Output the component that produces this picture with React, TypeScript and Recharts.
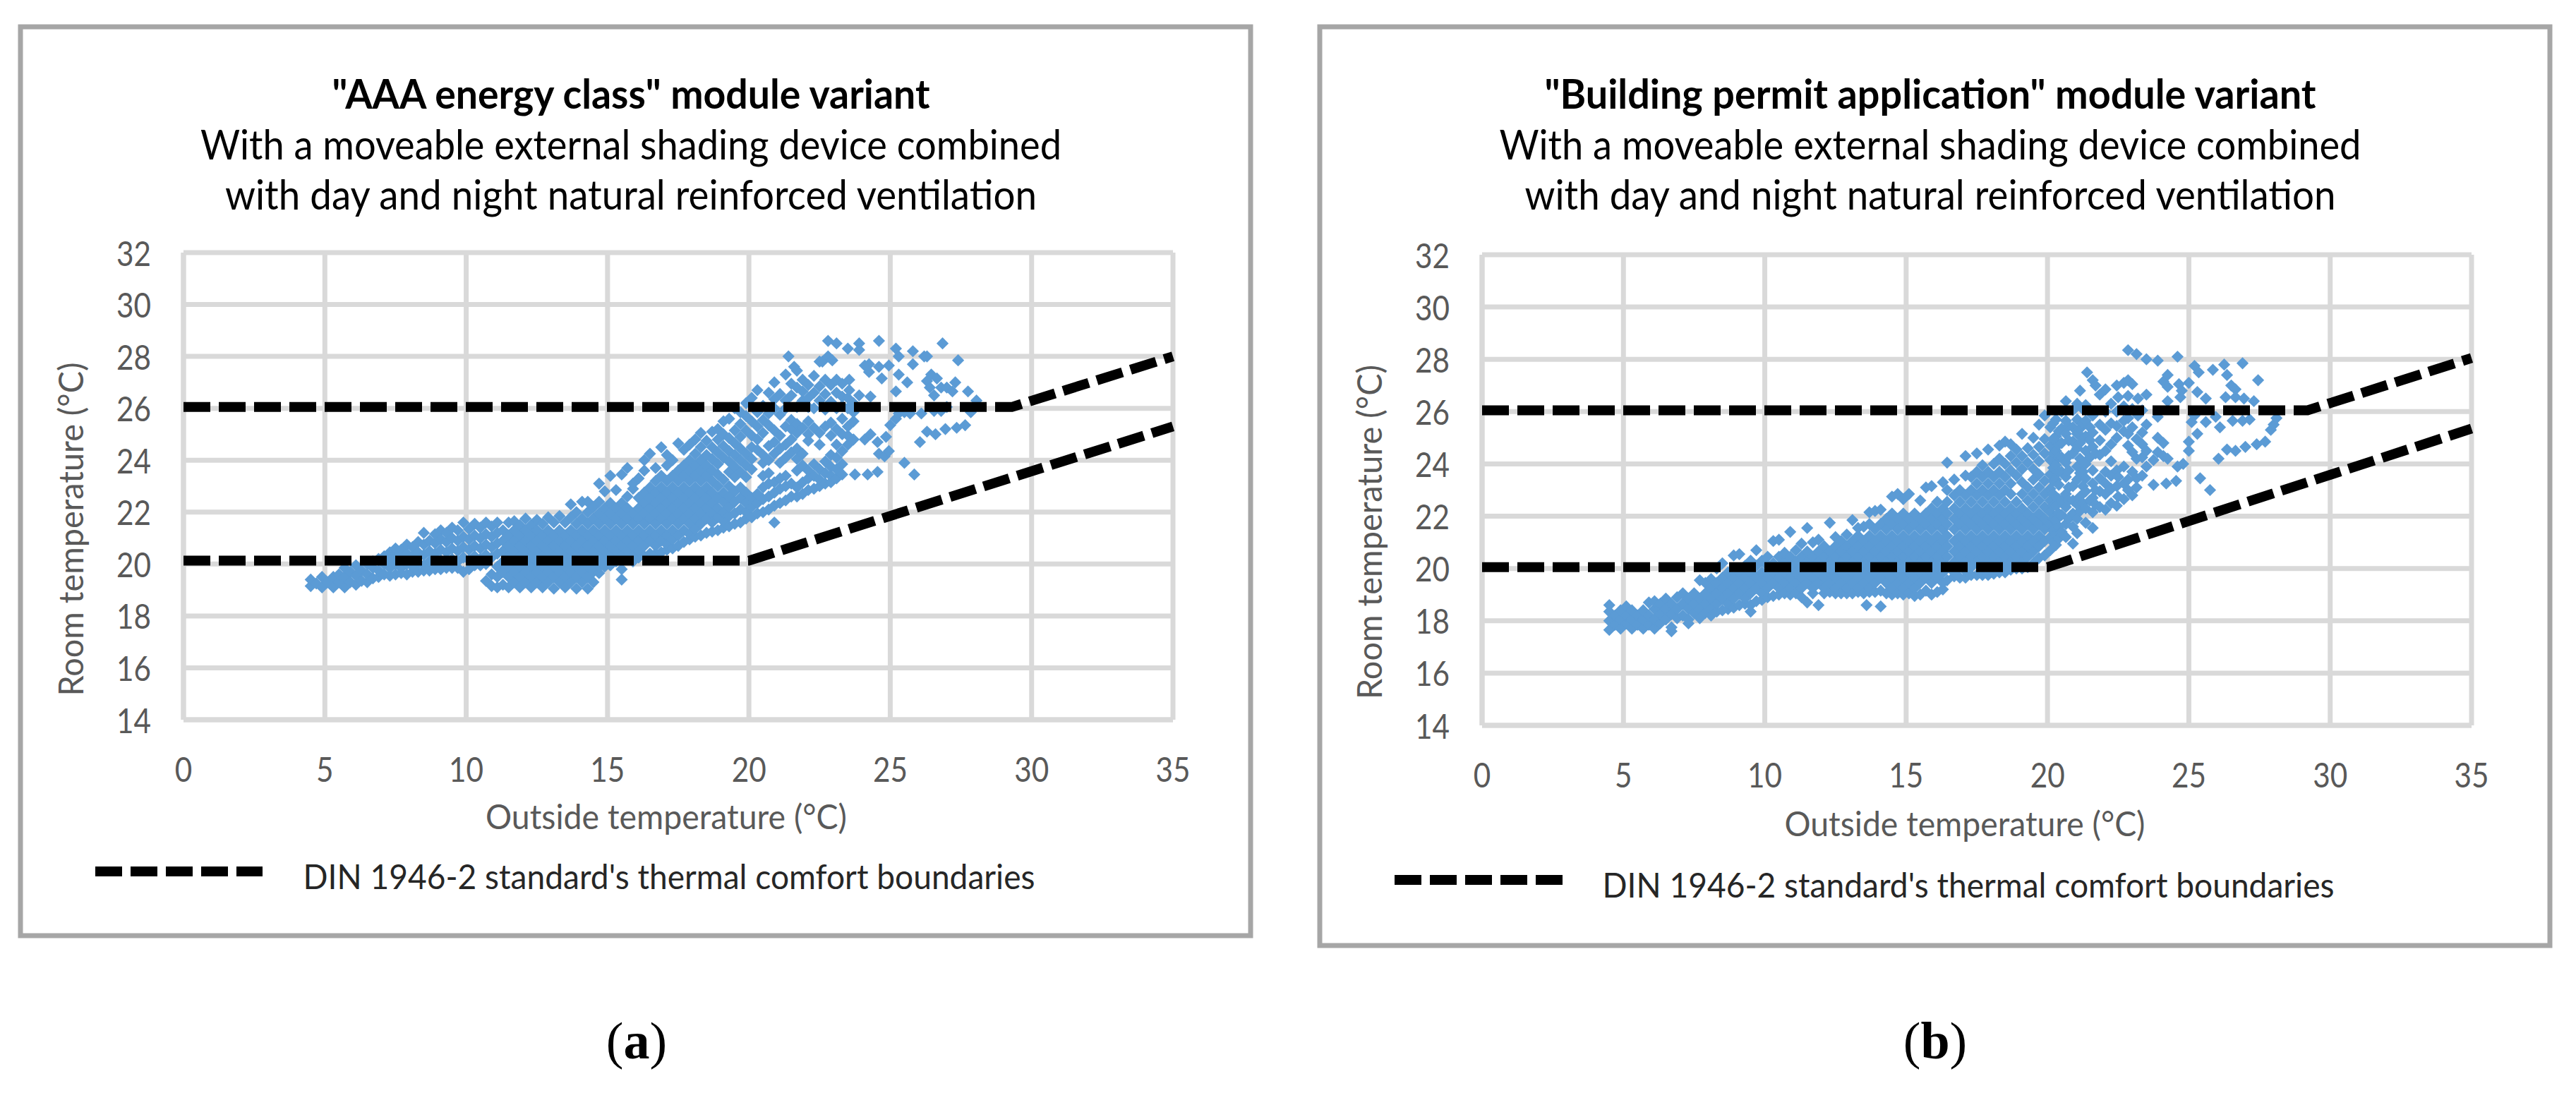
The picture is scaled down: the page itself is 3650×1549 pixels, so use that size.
import React from "react";
import { ScatterChart, Scatter, XAxis, YAxis, CartesianGrid } from "recharts";

const xTicks = [0, 5, 10, 15, 20, 25, 30, 35];
const yTicks = [14, 16, 18, 20, 22, 24, 26, 28, 30, 32];

const upperA = [{ x: 0, y: 26.05 }, { x: 29.3, y: 26.05 }, { x: 35, y: 28 }];
const lowerA = [{ x: 0, y: 20.13 }, { x: 20, y: 20.13 }, { x: 35, y: 25.3 }];
const upperB = [{ x: 0, y: 26.05 }, { x: 29.2, y: 26.05 }, { x: 35, y: 28.05 }];
const lowerB = [{ x: 0, y: 20.05 }, { x: 20, y: 20.05 }, { x: 35, y: 25.35 }];

// each row: outside temperature, then the room temperatures read at it
const coolA = [
  [4.5, 19.15, 19.4], [4.7, 19.25], [4.9, 19.1, 19.5], [5.1, 19.3], [5.3, 19.1, 19.5], [5.5, 19.3, 19.6],
  [5.7, 19.1, 19.5, 19.85], [5.9, 19.3, 19.7], [6.1, 19.2, 19.55, 19.95], [6.3, 19.35, 19.75], [6.5, 19.3, 19.6, 20.0],
  [6.7, 19.45, 19.85, 20.1], [6.9, 19.5, 19.75, 20.2], [7.1, 19.6, 20.0, 20.3], [7.3, 19.55, 19.85, 20.2, 20.45],
  [7.5, 19.6, 20.0, 20.4, 20.6], [7.7, 19.65, 19.85, 20.25, 20.55], [7.9, 19.6, 20.0, 20.4, 20.75],
  [8.1, 19.7, 19.9, 20.3, 20.65], [8.3, 19.7, 20.05, 20.45, 20.85], [8.5, 19.75, 19.95, 20.35, 20.75, 21.2],
  [8.7, 19.75, 20.1, 20.5, 20.9], [8.9, 19.8, 20.0, 20.4, 20.8, 21.15], [9.1, 19.8, 20.15, 20.55, 20.95, 21.3],
  [9.3, 19.85, 20.05, 20.45, 20.85, 21.2], [9.5, 19.85, 20.2, 20.6, 21.0, 21.4], [9.7, 19.85, 20.1, 20.5, 20.9, 21.3],
  [9.9, 19.7, 20.25, 20.65, 21.05, 21.6], [10.1, 19.8, 20.15, 20.55, 20.95, 21.35], [10.3, 19.95, 20.3, 20.7, 21.1, 21.55],
  [10.5, 19.95, 20.2, 20.6, 21.0, 21.4], [10.7, 19.35, 20.0, 20.35, 20.75, 21.15, 21.6],
  [10.9, 19.15, 19.6, 20.25, 20.65, 21.05, 21.45], [11.1, 19.1, 19.5, 19.9, 20.4, 20.8, 21.2, 21.6],
  [11.3, 19.2, 19.7, 20.1, 20.5, 20.9, 21.3], [11.5, 19.1, 19.5, 19.9, 20.3, 20.7, 21.1, 21.6],
  [11.7, 19.3, 19.7, 20.1, 20.5, 20.9, 21.3, 21.65], [11.9, 19.1, 19.5, 19.9, 20.3, 20.7, 21.1, 21.5],
  [12.1, 19.3, 19.7, 20.1, 20.5, 20.9, 21.3, 21.75], [12.3, 19.1, 19.5, 19.9, 20.3, 20.7, 21.1, 21.5],
  [12.5, 19.3, 19.7, 20.1, 20.5, 20.9, 21.3, 21.7], [12.7, 19.1, 19.5, 19.9, 20.3, 20.7, 21.1, 21.55],
  [12.9, 19.3, 19.7, 20.1, 20.5, 20.9, 21.3, 21.8], [13.1, 19.05, 19.5, 19.9, 20.3, 20.7, 21.1, 21.6],
  [13.3, 19.3, 19.7, 20.1, 20.5, 20.9, 21.3, 21.85], [13.5, 19.1, 19.5, 19.9, 20.3, 20.7, 21.1, 21.6],
  [13.7, 19.3, 19.7, 20.1, 20.5, 20.9, 21.3, 21.8, 22.3], [13.9, 19.05, 19.5, 19.9, 20.3, 20.7, 21.1, 21.55, 22.0],
  [14.1, 19.3, 19.7, 20.1, 20.5, 20.9, 21.3, 21.75, 22.4], [14.3, 19.05, 19.5, 19.9, 20.3, 20.7, 21.1, 21.55, 22.0, 22.4],
  [14.5, 19.3, 19.7, 20.1, 20.5, 20.9, 21.3, 21.75, 22.2], [14.7, 19.65, 19.9, 20.3, 20.7, 21.1, 21.55, 21.95, 22.4, 23.1],
  [14.9, 19.9, 20.1, 20.5, 20.9, 21.3, 21.75, 22.15, 22.8],
];
const warmA = [
  [15.1, 19.95, 20.3, 20.7, 21.1, 21.55, 21.95, 22.35, 23.4], [15.3, 20.1, 20.5, 20.9, 21.3, 21.75, 22.15, 22.85],
  [15.5, 19.4, 19.8, 20.3, 20.7, 21.1, 21.55, 21.95, 22.35, 23.45], [15.7, 20.2, 20.5, 20.9, 21.3, 21.75, 22.15, 22.6, 23.7],
  [15.9, 20.1, 20.3, 20.7, 21.1, 21.55, 21.95, 22.9, 23.1], [16.1, 20.25, 20.5, 20.9, 21.3, 21.75, 22.15, 22.55, 23.3],
  [16.3, 20.3, 20.7, 21.1, 21.55, 21.95, 22.35, 22.75, 23.6, 24.0], [16.5, 20.4, 20.9, 21.3, 21.75, 22.15, 22.55, 22.95, 24.25],
  [16.7, 20.4, 20.7, 21.1, 21.55, 21.95, 22.35, 22.75, 23.2, 23.7], [16.9, 20.45, 20.9, 21.3, 21.75, 22.15, 22.55, 22.95, 23.4, 24.5],
  [17.1, 20.55, 20.75, 21.1, 21.55, 21.95, 22.35, 22.75, 23.2, 23.8, 24.2], [17.3, 20.6, 20.95, 21.3, 21.75, 22.15, 22.55, 22.95, 23.4, 24.0],
  [17.5, 20.7, 21.1, 21.55, 21.95, 22.35, 22.75, 23.2, 23.6, 24.65], [17.7, 20.85, 21.3, 21.75, 22.15, 22.55, 22.95, 23.4, 23.8, 24.4],
  [17.9, 20.95, 21.15, 21.55, 21.95, 22.35, 22.75, 23.2, 23.6, 24.0, 24.6], [18.1, 21.05, 21.35, 21.75, 22.15, 22.55, 22.95, 23.4, 23.8, 24.25, 24.8],
  [18.3, 21.1, 21.55, 21.95, 22.35, 22.75, 23.2, 23.6, 24.0, 24.5, 25.05], [18.5, 21.2, 21.75, 22.15, 22.55, 22.95, 23.4, 23.8, 24.2, 24.75],
  [18.7, 21.25, 21.6, 21.95, 22.35, 22.75, 23.2, 23.6, 24.05, 24.5, 25.1], [18.9, 21.3, 21.8, 22.15, 22.55, 23.0, 23.45, 23.85, 24.3, 24.8, 25.2],
  [19.1, 21.4, 21.65, 22.0, 22.4, 22.75, 23.25, 24.1, 24.55, 25.0, 25.5], [19.3, 21.45, 21.85, 22.2, 22.6, 23.0, 23.55, 23.95, 24.35, 24.85, 25.6],
  [19.5, 21.55, 21.95, 22.4, 22.8, 23.35, 23.75, 24.2, 24.65, 25.15, 26.0], [19.7, 21.6, 22.1, 22.55, 22.95, 23.55, 24.0, 24.45, 24.9, 25.4, 25.85],
  [19.9, 21.75, 22.0, 22.35, 22.75, 23.35, 23.8, 24.25, 25.15, 25.7, 26.2],
  [20.1, 21.8, 22.2, 22.55, 23.65, 24.05, 24.5, 24.95, 25.5, 26.4], [20.3, 21.95, 22.35, 22.7, 24.4, 24.8, 25.3, 25.85, 26.7],
  [20.5, 22.0, 22.5, 22.95, 23.4, 23.9, 24.2, 25.05, 25.55, 26.1], [20.7, 22.1, 22.6, 23.1, 23.5, 24.0, 24.55, 25.35, 25.8, 26.6],
  [20.9, 21.6, 22.25, 22.75, 23.15, 24.25, 24.7, 25.15, 26.0, 26.35, 27.0], [21.1, 22.35, 22.9, 23.3, 23.9, 24.45, 24.95, 25.75, 26.55],
  [21.3, 22.45, 23.0, 23.4, 24.1, 24.6, 25.3, 26.0, 26.3, 27.3], [21.5, 22.6, 23.1, 24.3, 24.8, 25.2, 25.55, 26.5, 26.95],
  [21.7, 22.6, 22.95, 23.6, 24.05, 24.45, 25.05, 25.4, 26.05, 26.8, 27.45], [21.9, 22.7, 23.15, 23.8, 24.25, 25.25, 26.3, 26.65, 27.1],
  [22.1, 22.85, 23.3, 23.6, 24.75, 25.0, 25.5, 26.05, 26.4, 26.9], [22.3, 22.9, 23.4, 23.85, 25.25, 26.0, 26.6, 27.25],
  [22.5, 23.0, 23.25, 23.65, 24.6, 25.05, 26.3, 26.85, 27.8], [22.7, 23.1, 23.5, 23.95, 25.3, 25.95, 26.55, 27.1],
  [22.9, 23.15, 23.4, 23.75, 24.2, 24.95, 25.45, 26.25, 26.9], [23.1, 23.3, 23.65, 24.1, 24.6, 25.2, 26.0, 26.6, 27.1],
  [23.3, 23.45, 23.85, 24.35, 25.0, 25.6, 26.1, 26.45, 26.95], [23.5, 24.6, 24.95, 25.3, 26.0, 26.4],
  [23.7, 24.8, 25.5, 25.85, 26.2],
];
const sparseA = [
  [21.4, 28.0], [21.6, 27.6], [22.6, 27.8], [22.8, 28.6, 28.0], [22.95, 27.85], [23.1, 28.5], [23.5, 28.3],
  [23.55, 27.1, 26.7], [23.75, 23.45], [23.9, 28.5, 28.25, 26.5], [24.1, 27.65, 24.8], [24.2, 23.45], [24.25, 27.7, 27.4],
  [24.3, 26.45, 25.0], [24.55, 24.7, 23.55], [24.6, 28.6, 27.6, 24.25], [24.7, 27.15], [24.8, 24.15], [24.85, 24.9],
  [24.95, 27.65, 24.35], [25.0, 25.35], [25.2, 28.3, 26.65, 25.6], [25.3, 28.0, 27.3, 25.8], [25.5, 23.9, 25.85], [25.6, 27.0, 26.0],
  [25.7, 25.8], [25.8, 28.2, 27.7], [25.85, 23.45], [26.05, 24.7], [26.1, 25.8], [26.2, 28.0], [26.3, 28.0, 27.05, 25.1],
  [26.4, 26.8], [26.45, 27.3], [26.55, 26.5, 25.9], [26.6, 25.0], [26.65, 27.15], [26.8, 26.8, 25.9], [26.85, 28.5],
  [26.95, 25.2], [27.0, 26.8, 26.05], [27.2, 26.65], [27.3, 27.0], [27.35, 25.25], [27.4, 27.85], [27.65, 25.35],
  [27.75, 26.65], [27.85, 25.85], [28.05, 26.3],
];

const coolB = [
  [4.5, 17.65, 18.0, 18.35, 18.6], [4.7, 17.85, 18.2], [4.9, 17.7, 18.05, 18.4], [5.1, 17.9, 18.2, 18.55],
  [5.3, 17.7, 18.05, 18.4], [5.5, 17.85, 18.2], [5.7, 17.7, 18.05, 18.4], [5.9, 17.85, 18.2, 18.7],
  [6.1, 17.7, 18.05, 18.45, 18.75], [6.3, 17.9, 18.25, 18.65], [6.5, 18.05, 18.45, 18.85], [6.7, 17.6, 17.75, 18.25, 18.65],
  [6.9, 18.1, 18.45, 18.9], [7.1, 18.2, 18.65, 19.05], [7.3, 17.9, 18.05, 18.45, 18.85], [7.5, 18.3, 18.65, 19.05],
  [7.7, 18.1, 18.45, 18.85, 19.55], [7.9, 18.3, 18.65, 19.05, 19.45], [8.1, 18.2, 18.45, 18.85, 19.25, 19.6],
  [8.3, 18.35, 18.65, 19.05, 19.45, 20.0], [8.5, 18.4, 18.85, 19.25, 19.65, 20.2], [8.7, 18.45, 18.65, 19.05, 19.45, 19.85],
  [8.9, 18.5, 18.85, 19.25, 19.65, 20.5], [9.1, 18.6, 19.05, 19.45, 19.85, 20.55], [9.3, 18.65, 18.85, 19.25, 19.65, 20.1],
  [9.5, 18.35, 18.6, 19.05, 19.45, 19.85, 20.3], [9.7, 18.75, 19.25, 19.65, 20.1, 20.7], [9.9, 18.8, 19.05, 19.45, 19.85, 20.3],
  [10.1, 18.9, 19.25, 19.65, 20.1, 20.45], [10.3, 18.95, 19.45, 19.85, 20.2, 21.05], [10.5, 19.0, 19.25, 19.65, 20.05, 20.45, 21.1],
  [10.7, 19.05, 19.45, 19.85, 20.25, 20.6], [10.9, 19.0, 19.25, 19.65, 20.05, 20.45, 21.4], [11.1, 19.05, 19.45, 19.85, 20.25, 20.7],
  [11.3, 18.9, 19.25, 19.65, 20.05, 20.45, 20.95], [11.5, 18.7, 19.45, 19.85, 20.25, 20.65, 21.55], [11.7, 19.05, 19.25, 19.65, 20.05, 20.45, 21.0],
  [11.9, 18.6, 19.45, 19.85, 20.25, 20.65, 21.1], [12.1, 19.05, 19.25, 19.65, 20.05, 20.45, 20.85], [12.3, 19.1, 19.45, 19.85, 20.25, 20.65, 21.75],
  [12.5, 19.05, 19.25, 19.65, 20.05, 20.45, 20.85, 21.2], [12.7, 19.05, 19.45, 19.85, 20.25, 20.65, 21.05], [12.9, 19.05, 19.25, 19.65, 20.05, 20.45, 20.85, 21.3],
  [13.1, 19.05, 19.45, 19.85, 20.25, 20.65, 21.05, 21.85], [13.3, 19.1, 19.25, 19.65, 20.05, 20.45, 20.85, 21.25, 21.55], [13.5, 19.05, 19.45, 19.85, 20.25, 20.65, 21.05, 21.6],
  [13.6, 18.6], [13.7, 19.1, 19.25, 19.65, 20.05, 20.45, 20.85, 21.25, 21.7, 22.15], [13.9, 19.1, 19.45, 19.85, 20.25, 20.65, 21.05, 21.5, 22.2],
  [14.1, 18.55, 19.15, 19.65, 20.05, 20.45, 20.85, 21.25, 21.7, 22.25], [14.3, 19.05, 19.45, 19.85, 20.25, 20.65, 21.05, 21.5, 21.9],
  [14.5, 19.0, 19.25, 19.65, 20.05, 20.45, 20.85, 21.25, 21.7, 22.1, 22.75], [14.7, 19.05, 19.45, 19.85, 20.25, 20.65, 21.05, 21.5, 21.9, 22.85],
  [14.9, 19.0, 19.25, 19.65, 20.05, 20.45, 20.85, 21.25, 21.7, 22.1, 22.65],
];
const warmB = [
  [15.1, 19.05, 19.45, 19.85, 20.25, 20.65, 21.05, 21.5, 21.9, 22.85], [15.3, 18.95, 19.25, 19.65, 20.05, 20.45, 20.85, 21.25, 21.7, 22.1],
  [15.5, 19.0, 19.45, 19.85, 20.25, 20.65, 21.05, 21.5, 21.9, 22.6], [15.7, 19.15, 19.65, 20.05, 20.45, 20.85, 21.25, 21.7, 22.1, 23.1],
  [15.9, 19.0, 19.45, 19.85, 20.25, 20.65, 21.05, 21.5, 21.9, 22.3, 23.15], [16.1, 19.1, 19.65, 20.05, 20.45, 20.85, 21.25, 21.7, 22.1, 22.55],
  [16.3, 19.2, 19.45, 19.85, 20.25, 20.65, 21.05, 21.5, 21.9, 22.3, 23.3], [16.45, 19.55, 20.05, 20.45, 20.85, 21.25, 21.7, 22.1, 22.55, 23.0, 24.05],
  [16.7, 19.7, 19.85, 20.25, 20.65, 21.05, 21.5, 21.9, 22.3, 22.8, 23.4], [16.9, 19.65, 20.05, 20.45, 20.85, 21.25, 21.7, 22.1, 22.55, 23.0],
  [17.1, 19.65, 19.9, 20.25, 20.65, 21.05, 21.5, 21.9, 22.3, 22.8, 23.55, 24.3], [17.3, 19.75, 20.05, 20.45, 20.85, 21.25, 21.7, 22.1, 22.55, 23.0, 23.5],
  [17.5, 19.75, 20.25, 20.65, 21.05, 21.5, 21.9, 22.3, 22.8, 23.25, 23.7, 24.4], [17.7, 19.75, 20.05, 20.45, 20.85, 21.25, 21.7, 22.1, 22.55, 23.0, 23.5, 23.95],
  [17.9, 19.75, 20.25, 20.65, 21.05, 21.5, 21.9, 22.3, 22.8, 23.25, 23.7, 24.55], [18.1, 19.8, 20.05, 20.45, 20.85, 21.25, 21.7, 22.1, 22.55, 23.0, 23.5, 24.0],
  [18.3, 19.85, 20.25, 20.65, 21.05, 21.5, 21.9, 22.3, 22.8, 23.25, 23.7, 24.2, 24.7], [18.5, 19.85, 20.05, 20.45, 20.85, 21.25, 21.7, 22.1, 22.55, 23.0, 23.5, 24.0, 24.85],
  [18.7, 19.95, 20.25, 20.65, 21.05, 21.5, 21.9, 22.3, 22.85, 23.25, 23.75, 24.3, 24.75], [18.9, 20.0, 20.45, 20.85, 21.25, 21.7, 22.1, 22.55, 23.55, 24.05, 24.55],
  [19.1, 20.0, 20.25, 20.65, 21.05, 21.5, 21.9, 22.3, 22.85, 23.3, 23.8, 24.3, 25.15], [19.3, 20.05, 20.45, 20.85, 21.25, 21.7, 22.1, 22.6, 23.1, 24.05, 24.6],
  [19.5, 20.2, 20.65, 21.05, 21.5, 21.9, 22.35, 22.85, 23.4, 23.8, 24.35, 25.0], [19.7, 20.4, 20.85, 21.25, 21.7, 22.1, 22.6, 23.1, 23.6, 24.1, 24.65, 25.5],
  [19.9, 20.5, 21.05, 21.5, 21.9, 22.35, 22.85, 23.35, 24.4, 24.95, 25.85],
];
const hotB = [
  [20.1, 20.7, 21.2, 21.7, 22.15, 22.6, 23.05, 23.6, 24.15, 24.7, 25.4], [20.2, 21.0, 21.45, 21.9, 22.4, 22.85, 23.35, 23.85, 24.4, 24.95, 25.55],
  [20.3, 20.9, 21.3, 21.85, 22.4, 23.4, 23.95, 24.5, 25.05, 25.7], [20.4, 21.15, 21.6, 22.1, 22.65, 23.2, 23.7, 24.25, 24.75, 25.25],
  [20.5, 21.4, 22.05, 22.6, 23.7, 24.25, 24.8, 25.35, 26.0], [20.65, 21.2, 21.7, 22.35, 22.85, 23.5, 24.05, 25.15, 25.65, 26.4],
  [20.75, 21.9, 22.6, 23.1, 23.75, 24.3, 24.9, 25.45],
  [20.9, 20.95, 21.6, 22.1, 22.6, 23.15, 24.4, 24.85, 25.4, 26.05], [21.05, 21.35, 21.9, 22.45, 23.4, 23.9, 24.6, 25.15, 25.7, 26.3],
  [21.15, 22.2, 22.75, 23.65, 24.2, 24.8, 25.35, 26.8], [21.25, 22.5, 23.15, 23.7, 25.0, 25.55, 26.1],
  [21.35, 21.75, 22.3, 22.95, 23.45, 24.0, 24.5, 25.05, 25.65, 26.25],
  [21.4, 27.5], [21.5, 22.6, 24.25, 24.9, 25.4], [21.6, 21.55, 22.15, 22.7, 23.25, 23.75, 24.65, 25.2, 25.85, 27.2], [21.7, 27.0, 22.45, 23.0, 24.4],
  [21.85, 22.35, 22.95, 23.45, 24.35, 24.9, 25.5, 26.65], [22.05, 22.25, 22.85, 23.25, 23.7, 24.5, 25.3, 26.0, 26.85],
  [22.25, 22.5, 23.05, 23.55, 24.1, 24.75, 25.55, 26.3], [22.45, 22.4, 23.15, 23.75, 25.0, 25.45, 26.0, 27.0],
  [22.5, 22.75, 23.5, 26.55], [22.7, 22.65, 23.25, 23.9, 25.25, 25.65, 26.2, 27.1], [22.85, 23.0, 23.4, 24.7, 25.15, 25.75, 26.6, 27.2, 28.35],
  [23.0, 22.8, 23.7, 24.45, 25.4, 26.1, 27.05], [23.15, 23.1, 23.45, 24.2, 24.95, 28.2], [23.2, 25.85, 26.5],
  [23.35, 23.55, 24.25, 24.75, 25.2, 26.05], [23.5, 23.9, 24.5, 25.5, 26.65, 28.0], [23.75, 23.2, 24.15], [23.9, 27.95, 24.45, 25.0, 25.8],
  [24.1, 24.3, 24.8, 27.15], [24.2, 23.25], [24.25, 27.4, 26.95, 26.4, 24.2], [24.55, 23.35], [24.6, 28.1, 23.9], [24.65, 27.05],
  [24.7, 26.55], [24.75, 26.8], [24.8, 24.0], [25.0, 27.1, 24.85, 24.5], [25.1, 25.6], [25.2, 27.75, 25.85], [25.3, 26.75, 25.15],
  [25.35, 27.5], [25.4, 23.45], [25.6, 26.5, 25.6], [25.75, 23.0], [25.85, 27.6], [25.95, 25.8], [26.05, 24.2], [26.1, 25.4],
  [26.25, 27.8], [26.3, 26.55], [26.35, 27.4, 24.55], [26.5, 27.0], [26.55, 25.65], [26.65, 26.85, 26.55, 24.5], [26.9, 27.85, 25.65],
  [26.95, 26.5], [27.0, 24.65], [27.15, 25.7], [27.3, 26.4], [27.4, 24.75], [27.45, 27.2], [27.7, 24.85], [27.9, 25.3], [28.0, 25.5], [28.1, 25.75],
];

const toPoints = (rows: number[][]) => rows.flatMap(([x, ...ys]) => ys.map((y) => ({ x, y })));
const pointsA = toPoints([...coolA, ...warmA, ...sparseA]);
const pointsB = toPoints([...coolB, ...warmB, ...hotB]);

const Diamond = (p: any) => (
  <path d={`M${p.cx} ${p.cy - 8.6}L${p.cx + 8.6} ${p.cy}L${p.cx} ${p.cy + 8.6}L${p.cx - 8.6} ${p.cy}Z`} fill="#5b9bd5" />
);
const NoMark = () => null;
const dash = { stroke: "#000", strokeWidth: 14, strokeDasharray: "38 12", fill: "none" };
const FONT = "Lato";
const GREY = "#595959";

const digitWidth = 24.5;
const XTick = ({ x, y, payload }: any) => {
  const s = String(payload.value);
  return (
    <text x={x} y={y + 25} textAnchor="middle" dominantBaseline="central" fontFamily={FONT} fontSize={48} fill={GREY}
      textLength={s.length * digitWidth} lengthAdjust="spacingAndGlyphs">{s}</text>
  );
};
const YTick = ({ x, y, payload }: any) => {
  const s = String(payload.value);
  return (
    <text x={x} y={y} textAnchor="end" dominantBaseline="central" fontFamily={FONT} fontSize={48} fill={GREY}
      textLength={s.length * digitWidth} lengthAdjust="spacingAndGlyphs">{s}</text>
  );
};

function Panel({ left, top, width, height, m, points, upper, lower }: any) {
  return (
    <div style={{ position: "absolute", left, top }}>
      <ScatterChart width={width} height={height} margin={m}>
        <CartesianGrid stroke="#d9d9d9" strokeWidth={7} />
        <XAxis type="number" dataKey="x" domain={[0, 35]} ticks={xTicks} interval={0} height={100} tickLine={false} tickSize={0}
          tickMargin={44} axisLine={{ stroke: "#d9d9d9", strokeWidth: 7 }} tick={<XTick />} />
        <YAxis type="number" dataKey="y" domain={[14, 32]} ticks={yTicks} interval={0} width={100} tickLine={false} tickSize={0}
          tickMargin={46} axisLine={{ stroke: "#d9d9d9", strokeWidth: 7 }} tick={<YTick />} />
        <Scatter data={points} shape={Diamond} isAnimationActive={false} />
        <Scatter data={upper} line={dash} lineJointType="linear" shape={NoMark} isAnimationActive={false} />
        <Scatter data={lower} line={dash} lineJointType="linear" shape={NoMark} isAnimationActive={false} />
      </ScatterChart>
    </div>
  );
}

const T = ({ x, y, w, size = 58, weight = 400, fill = "#000", rotate, children }: any) => (
  <text x={x} y={y} textAnchor="middle" dominantBaseline="central" fontFamily={FONT} fontSize={size} fontWeight={weight} fill={fill}
    textLength={w} lengthAdjust="spacingAndGlyphs" transform={rotate ? `rotate(-90 ${x} ${y})` : undefined}>
    {children}
  </text>
);

const sub1 = "With a moveable external shading device combined";
const sub2 = "with day and night natural reinforced ventilation";
const xName = "Outside temperature (°C)";
const yName = "Room temperature (°C)";
const legendName = "DIN 1946-2 standard's thermal comfort boundaries";

export default function App() {
  return (
    <div style={{ position: "absolute", left: 0, top: 0, width: 3650, height: 1549, background: "#fff", overflow: "hidden" }}>
      <svg width={3650} height={1549} style={{ position: "absolute", left: 0, top: 0 }}>
        <rect x={29} y={38} width={1743} height={1288} fill="none" stroke="#a6a6a6" strokeWidth={7} />
        <rect x={1870} y={38} width={1743} height={1302} fill="none" stroke="#a6a6a6" strokeWidth={7} />
      </svg>
      <Panel left={0} top={300} width={1825} height={850} m={{ left: 160, top: 58, right: 163, bottom: 30 }} points={pointsA} upper={upperA} lower={lowerA} />
      <Panel left={1825} top={300} width={1825} height={860} m={{ left: 175, top: 61, right: 148, bottom: 32 }} points={pointsB} upper={upperB} lower={lowerB} />
      <svg width={3650} height={1549} style={{ position: "absolute", left: 0, top: 0 }}>
        <T x={894} y={131} w={847} weight={700}>"AAA energy class" module variant</T>
        <T x={894} y={203} w={1220}>{sub1}</T>
        <T x={894} y={274} w={1150}>{sub2}</T>
        <T x={944} y={1156} w={512} size={48} fill={GREY}>{xName}</T>
        <T x={99} y={750} w={473} size={48} fill={GREY} rotate>{yName}</T>
        <line x1={135} x2={372} y1={1235} y2={1235} stroke="#000" strokeWidth={14} strokeDasharray="38 12" />
        <T x={948} y={1241} w={1037} size={48} fill="#262626">{legendName}</T>
        <text x={902} y={1475} textAnchor="middle" dominantBaseline="central" fontFamily="Liberation Serif" fontSize={74}>(<tspan fontWeight={700}>a</tspan>)</text>

        <T x={2735} y={131} w={1093} weight={700}>"Building permit application" module variant</T>
        <T x={2735} y={203} w={1221}>{sub1}</T>
        <T x={2735} y={274} w={1149}>{sub2}</T>
        <T x={2784} y={1166} w={511} size={48} fill={GREY}>{xName}</T>
        <T x={1939} y={754} w={474} size={48} fill={GREY} rotate>{yName}</T>
        <line x1={1976} x2={2214} y1={1247} y2={1247} stroke="#000" strokeWidth={14} strokeDasharray="38 12" />
        <T x={2789} y={1253} w={1037} size={48} fill="#262626">{legendName}</T>
        <text x={2742} y={1475} textAnchor="middle" dominantBaseline="central" fontFamily="Liberation Serif" fontSize={74}>(<tspan fontWeight={700}>b</tspan>)</text>
      </svg>
    </div>
  );
}
